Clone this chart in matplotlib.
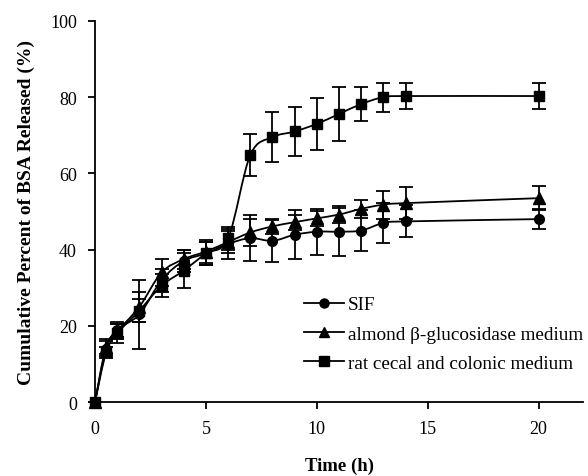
import numpy as np
import matplotlib
matplotlib.use("Agg")
import matplotlib.pyplot as plt
from matplotlib.path import Path
from matplotlib.patches import PathPatch
from matplotlib.lines import Line2D

# time points (h)
time_h = [0, 0.5, 1, 2, 3, 4, 5, 6, 7, 8, 9, 10, 11, 12, 13, 14, 20]

sif = [0, 14, 19, 23, 32, 37, 39, 41.5, 43, 42.3, 43.9, 44.7, 44.7, 45, 47, 47.4, 48]
sif_err = [0, 2, 2, 9, 3, 3, 3, 4, 6, 5.5, 6.4, 6, 6.3, 5.3, 5.3, 4.2, 2.7]

almond = [0, 14.5, 18.5, 25, 34, 37.5, 39.5, 42, 44.5, 46.1, 47.2, 48.2, 49.2, 50.7, 51.8, 52.2, 53.5]
almond_err = [0, 2, 2, 4, 3.5, 2.5, 3, 3, 3.5, 2, 2, 2, 2.2, 2.4, 3.7, 4.2, 3.2]

rat = [0, 13, 18, 24, 30.5, 34.5, 39, 43, 64.8, 69.5, 71, 73, 75.6, 78.2, 80, 80.3, 80.3]
rat_err = [0, 1.5, 2.5, 3, 3, 4.5, 3, 3, 5.6, 6.5, 6.4, 6.8, 7, 4.5, 3.8, 3.5, 3.3]

labels = ["SIF", "almond \u03b2-glucosidase medium", "rat cecal and colonic medium"]
markers = ["o", "^", "s"]

plt.rcParams['font.family'] = ['Liberation Serif', 'DejaVu Serif']


def smooth_path(ax, x, y):
    # excel-like smoothed line: bezier segments with catmull-rom control points
    x = np.asarray(x, float)
    y = np.asarray(y, float)
    n = len(x)
    verts = [(x[0], y[0])]
    codes = [Path.MOVETO]
    for i in range(n - 1):
        p0 = np.array([x[max(i - 1, 0)], y[max(i - 1, 0)]])
        p1 = np.array([x[i], y[i]])
        p2 = np.array([x[i + 1], y[i + 1]])
        p3 = np.array([x[min(i + 2, n - 1)], y[min(i + 2, n - 1)]])
        c1 = p1 + (p2 - p0) / 6.0
        c2 = p2 - (p3 - p1) / 6.0
        verts += [tuple(c1), tuple(c2), tuple(p2)]
        codes += [Path.CURVE4] * 3
    patch = PathPatch(Path(verts, codes), facecolor='none', edgecolor='black',
                      lw=1.3, clip_on=False, zorder=2)
    ax.add_patch(patch)


fig = plt.figure(figsize=(5.88, 4.77), dpi=100)
ax = fig.add_axes([0.1616, 0.1551, 0.8299, 0.7988])

for vals, errs, m in zip([sif, almond, rat], [sif_err, almond_err, rat_err], markers):
    smooth_path(ax, time_h, vals)
    ax.errorbar(time_h, vals, yerr=errs, fmt=m, color='black', ms=7 if m != '^' else 8,
                ecolor='black', elinewidth=1.3, capsize=5, capthick=1.3,
                clip_on=False, zorder=3)

ax.set_xlim(0, 22)
ax.set_ylim(0, 100)
ax.set_xticks([0, 5, 10, 15, 20])
ax.set_yticks([0, 20, 40, 60, 80, 100])
for s in ['top', 'right']:
    ax.spines[s].set_visible(False)
for s in ['left', 'bottom']:
    ax.spines[s].set_linewidth(1.3)
ax.tick_params(direction='out', length=5, width=1.3, labelsize=13, pad=8)

ax.set_xlabel('Time (h)', fontsize=13.5, fontweight='bold', labelpad=14)
ax.set_ylabel('Cumulative Percent of BSA Released (%)', fontsize=14,
              fontweight='bold', labelpad=11)

handles = [Line2D([], [], color='black', lw=1.3, marker=m, ms=6.5) for m in markers]
ax.legend(handles, labels, loc='upper left', bbox_to_anchor=(304 / 588, 1 - 297 / 477),
          bbox_transform=fig.transFigure, frameon=False, fontsize=13.8,
          handlelength=2.1, handletextpad=0.2, labelspacing=0.62, borderaxespad=0,
          borderpad=0)

fig.savefig('out.png', dpi=100)
